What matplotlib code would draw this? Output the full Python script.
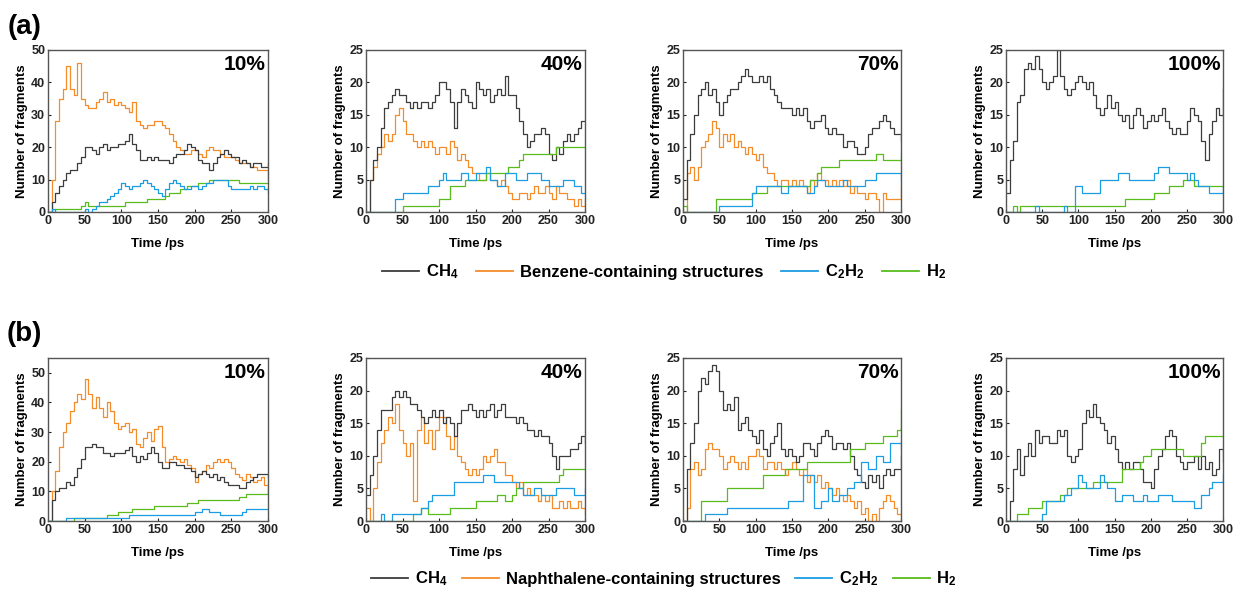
import numpy as np
import matplotlib
matplotlib.use('Agg')
import matplotlib.pyplot as plt
from matplotlib.lines import Line2D

plt.rcParams['font.family'] = ['Liberation Sans', 'DejaVu Sans']
plt.rcParams['font.weight'] = 'bold'
plt.rcParams['axes.labelweight'] = 'bold'
plt.rcParams['mathtext.fontset'] = 'custom'
plt.rcParams['mathtext.bf'] = 'Liberation Sans:bold'
plt.rcParams['mathtext.rm'] = 'Liberation Sans:bold'
plt.rcParams['mathtext.default'] = 'bf'

# time axis, one value every 5 ps
time_ps = list(range(0, 301, 5))
panel_titles = ['10%', '40%', '70%', '100%']

# ---- (a) benzene systems ----
a10_ch4 = [0,3,6,8,10,12,13,13,15,17, 20,20,19,18,20,21,19,20,20,21,
           21,22,24,21,19,16,16,17,16,17, 16,16,16,15,17,18,18,19,21,20,
           19,16,15,15,13,15,17,18,19,18, 17,17,15,16,15,14,15,15,14,14, 15]
a10_ar = [0,10,28,35,38,45,38,36,46,35, 33,32,32,34,35,37,34,35,33,34,
          33,32,31,34,28,27,26,27,27,28, 28,27,26,24,22,20,19,18,18,19,
          19,18,17,19,20,19,19,18,17,17, 17,16,15,15,15,14,14,13,13,13, 10]
a10_c2h2 = [0,1,0,0,0,0,0,0,0,0, 1,0,1,2,3,3,4,5,6,7,
            9,8,7,8,8,9,10,9,8,7, 6,5,7,9,10,9,8,7,7,8,
            8,7,8,9,9,10,10,10,10,8, 7,7,7,7,7,8,7,8,8,7, 6]
a10_h2 = [0,0,1,1,1,1,1,1,1,2, 3,2,2,2,2,2,2,2,2,2,
          2,3,3,3,3,3,3,4,4,4, 4,4,5,6,6,6,7,7,8,8,
          8,9,9,9,10,10,10,10,10,10, 10,10,9,9,9,9,9,9,9,9, 9]

a40_ch4 = [0,5,8,10,13,16,17,18,19,18, 18,17,16,17,16,17,17,16,17,18,
           20,20,19,17,13,17,19,18,17,16, 20,19,18,19,17,18,19,18,21,18,
           18,16,14,12,10,11,12,12,13,12, 9,8,10,9,11,12,11,12,13,14, 14]
a40_ar = [0,5,7,9,10,12,11,12,15,16, 14,12,12,11,10,11,10,11,10,9,
          10,10,9,11,10,8,9,8,7,6, 6,5,5,6,5,5,4,5,4,3,
          2,2,3,3,2,3,4,3,3,4, 3,2,4,3,3,2,2,1,2,1, 2]
a40_c2h2 = [0,0,0,0,0,0,0,0,2,2, 3,3,3,3,3,3,3,4,4,4,
            5,6,5,5,5,5,6,6,5,5, 6,6,6,7,5,5,4,4,6,6,
            6,5,5,5,6,6,6,6,5,5, 4,4,4,4,5,5,5,4,4,3, 3]
a40_h2 = [0,0,0,0,0,0,0,0,0,0, 1,1,1,1,1,1,1,1,1,1,
          2,2,2,4,4,4,4,5,5,5, 5,5,5,6,6,6,6,6,6,7,
          7,7,8,9,9,9,9,9,9,9, 9,9,10,10,10,10,10,10,10,10, 10]

a70_ch4 = [2,8,12,15,18,19,20,18,19,17, 15,17,18,19,19,20,21,22,21,20,
           20,21,20,21,19,18,17,16,16,16, 15,16,15,16,14,13,14,14,15,13,
           12,13,12,12,10,11,11,10,9,9, 10,12,13,13,14,15,14,13,12,12, 11]
a70_ar = [0,6,7,5,7,10,11,12,14,13, 10,12,11,12,10,11,10,9,10,9,
          8,9,7,6,6,5,4,5,5,4, 5,4,5,4,3,5,4,6,5,5,
          4,5,4,5,4,5,3,4,3,3, 2,3,3,2,0,3,2,2,2,2, 4]
a70_c2h2 = [0,0,0,0,0,0,0,0,0,0, 1,1,1,1,1,1,1,1,1,3,
            4,4,4,4,4,4,4,3,3,4, 4,4,4,4,3,3,4,5,5,4,
            4,4,4,4,5,4,4,4,4,4, 5,5,5,6,6,6,6,6,6,6, 5]
a70_h2 = [1,0,0,0,0,0,0,0,0,2, 2,2,2,2,2,2,2,2,2,3,
          3,3,3,4,4,4,4,4,4,4, 4,4,4,4,4,5,5,6,7,7,
          7,7,7,8,8,8,8,8,8,8, 8,8,8,9,9,8,8,8,8,8, 9]

a100_ch4 = [3,8,11,17,18,22,23,22,24,22, 20,19,20,21,25,21,19,18,19,20,
            21,20,19,20,18,16,15,16,18,16, 17,15,14,15,13,15,16,15,13,14,
            15,14,15,16,14,13,12,13,12,12, 14,16,15,14,11,8,12,14,16,15, 19]
a100_c2h2 = [0,0,0,0,0,0,0,0,1,0, 0,0,0,0,0,0,1,0,0,4,
             4,3,3,3,3,3,5,5,5,5, 5,6,6,6,5,5,5,5,5,5,
             5,6,7,7,7,6,6,6,6,6, 5,6,5,4,4,4,3,3,3,3, 4]
a100_h2 = [0,0,1,0,1,1,1,1,1,1, 1,1,1,1,1,1,1,1,1,1,
           1,1,1,1,1,1,1,1,1,1, 1,1,1,2,2,2,2,2,2,2,
           2,3,3,3,3,4,4,4,4,5, 5,5,4,4,4,4,4,4,4,4, 4]

# ---- (b) naphthalene systems ----
b10_ch4 = [0,7,10,11,11,13,12,15,18,21, 25,25,26,25,25,23,23,22,23,23,
           23,24,25,22,20,22,21,23,25,23, 20,18,18,20,20,19,19,18,18,17,
           15,16,17,16,15,16,14,15,13,12, 12,12,11,11,13,14,15,16,16,16, 15]
b10_ar = [0,10,17,25,30,33,37,40,43,41, 48,43,38,42,38,35,40,37,33,31,
          32,33,30,31,26,25,28,30,27,31, 32,25,20,21,22,21,20,21,19,18,
          13,16,17,19,18,20,21,20,21,20, 18,16,15,14,16,15,13,14,15,12, 9]
b10_c2h2 = [0,0,0,0,0,1,1,1,1,1, 1,1,1,1,1,1,1,1,1,1,
            1,1,2,2,2,2,2,2,2,2, 2,2,2,2,2,2,2,2,2,2,
            3,3,4,4,3,3,3,2,2,2, 2,2,2,3,4,4,4,4,4,4, 4]
b10_h2 = [0,0,0,0,0,0,0,1,1,1, 1,1,1,1,1,1,2,2,2,3,
          3,3,3,4,4,4,4,4,4,5, 5,5,5,5,5,5,5,5,6,6,
          6,7,7,7,7,7,7,7,7,7, 7,7,8,8,9,9,9,9,9,9, 10]

b40_ch4 = [4,7,10,14,17,17,17,19,20,19, 20,19,18,18,17,16,15,16,17,16,
           17,15,16,15,13,15,17,17,18,17, 16,17,16,17,18,16,17,18,16,16,
           16,15,16,15,14,14,13,14,13,13, 12,10,8,10,10,10,11,11,12,13, 12]
b40_ar = [2,0,5,9,12,14,16,15,18,14, 12,10,12,3,14,16,12,14,11,14,
          16,16,13,11,13,10,9,8,7,8, 7,8,10,9,10,11,9,9,7,7,
          6,5,6,4,5,4,4,3,4,3, 4,2,2,3,2,3,2,2,3,2, 1]
b40_c2h2 = [0,0,0,0,1,0,0,1,1,1, 1,1,1,1,1,2,2,3,4,4,
            4,4,4,4,6,6,6,6,6,6, 6,6,7,7,7,6,6,6,6,6,
            6,6,5,4,4,4,5,5,4,4, 4,4,5,5,5,5,5,4,4,4, 5]
b40_h2 = [0,0,0,0,0,0,0,0,0,0, 0,0,0,1,1,2,2,1,1,1,
          1,1,1,2,2,2,2,2,2,2, 3,3,3,3,3,3,4,4,3,3,
          4,5,5,6,6,6,6,6,6,6, 6,6,6,7,8,8,8,8,8,8, 8]

b70_ch4 = [0,8,12,15,20,22,21,23,24,23, 20,17,18,17,19,14,15,16,14,13,
           12,14,11,10,12,13,15,11,10,11, 10,9,10,12,12,11,10,12,13,14,
           13,11,12,12,11,12,10,8,7,6, 5,7,6,7,5,7,8,7,8,8, 10]
b70_ar = [0,2,8,9,7,8,11,12,11,11, 10,8,9,10,9,8,9,8,10,10,
          11,10,8,9,9,8,9,8,7,8, 9,8,7,8,6,7,6,7,5,6,
          5,4,5,4,3,4,3,2,3,1, 2,0,1,0,2,3,4,3,2,1, 1]
b70_c2h2 = [0,0,0,0,0,0,1,1,1,1, 1,1,2,2,2,2,2,2,2,2,
            2,2,2,2,2,2,2,2,2,3, 3,3,3,7,7,7,2,2,3,3,
            5,3,3,4,4,5,5,6,6,9, 9,8,8,10,10,9,9,12,12,12, 11]
b70_h2 = [0,0,0,0,0,3,3,3,3,3, 3,3,5,5,5,5,5,5,5,5,
          5,5,7,7,7,7,7,7,8,8, 8,8,8,8,9,9,9,9,9,9,
          9,9,9,9,9,9,11,11,11,11, 12,12,12,12,12,13,13,13,13,14, 17]

b100_ch4 = [0,3,8,11,7,10,12,10,14,12, 13,13,12,12,14,13,14,10,9,10,
            11,15,17,16,18,16,15,14,12,13, 11,9,8,9,8,9,9,8,6,6,
            5,8,10,11,13,14,13,10,9,8, 9,9,10,8,10,8,9,7,8,11, 9]
b100_c2h2 = [0,0,0,0,0,0,0,0,0,0, 1,3,3,3,3,3,4,4,5,5,
             7,6,5,5,5,5,7,6,5,5, 3,3,4,4,4,3,3,3,4,3,
             3,3,4,4,4,4,3,3,3,3, 3,3,2,2,4,4,5,6,6,6, 7]
b100_h2 = [0,0,0,1,1,1,2,2,2,2, 3,3,3,3,3,4,4,5,5,5,
           5,5,5,5,6,6,6,6,6,6, 6,6,8,8,8,8,8,9,10,10,
           11,11,11,11,11,11,11,11,11,10, 10,10,10,10,12,13,13,13,13,13, 13]

ch4_rows = [[a10_ch4, a40_ch4, a70_ch4, a100_ch4], [b10_ch4, b40_ch4, b70_ch4, b100_ch4]]
ar_rows = [[a10_ar, a40_ar, a70_ar, None], [b10_ar, b40_ar, b70_ar, None]]
c2h2_rows = [[a10_c2h2, a40_c2h2, a70_c2h2, a100_c2h2], [b10_c2h2, b40_c2h2, b70_c2h2, b100_c2h2]]
h2_rows = [[a10_h2, a40_h2, a70_h2, a100_h2], [b10_h2, b40_h2, b70_h2, b100_h2]]
ar_names = ['Benzene-containing structures', 'Naphthalene-containing structures']

c_ch4 = '#3d3d3d'
c_ar = '#f58c2a'
c_c2h2 = '#1c9de2'
c_h2 = '#58bd1c'

W, H = 1236, 590
fig = plt.figure(figsize=(W / 100, H / 100), dpi=100)

# axes boxes in pixels: (left, right)
lefts = [(48, 268), (366, 585), (683, 901), (1006, 1223)]
rows_y = [(50, 212), (358, 521)]

for r in range(2):
    top, bot = rows_y[r]
    for c in range(4):
        l, rr = lefts[c]
        ax = fig.add_axes([l / W, 1 - bot / H, (rr - l) / W, (bot - top) / H])
        if ar_rows[r][c] is not None:
            ax.plot(time_ps, ar_rows[r][c], color=c_ar, lw=0.9, drawstyle='steps-post')
        ax.plot(time_ps, ch4_rows[r][c], color=c_ch4, lw=0.9, drawstyle='steps-post')
        ax.plot(time_ps, h2_rows[r][c], color=c_h2, lw=0.9, drawstyle='steps-post')
        ax.plot(time_ps, c2h2_rows[r][c], color=c_c2h2, lw=0.9, drawstyle='steps-post')
        ax.set_xlim(0, 300)
        ax.set_xticks([0, 50, 100, 150, 200, 250, 300])
        if c == 0:
            top_y = 50 if r == 0 else 55
            ax.set_ylim(0, top_y)
            ax.set_yticks([0, 10, 20, 30, 40, 50])
        else:
            ax.set_ylim(0, 25)
            ax.set_yticks([0, 5, 10, 15, 20, 25])
        ax.tick_params(direction='in', length=2, width=0.8, labelsize=9, pad=2, colors='#222222')
        for s in ax.spines.values():
            s.set_color('#555555')
            s.set_linewidth(1.0)
        ax.set_xlabel('Time /ps', fontsize=9.5, labelpad=8)
        ax.set_ylabel('Number of fragments', fontsize=9.5, labelpad=2)
        ax.text(0.99, 0.97, panel_titles[c], transform=ax.transAxes, ha='right', va='top',
                fontsize=15, fontweight='bold')

    handles = [Line2D([], [], color=c_ch4, lw=1.3), Line2D([], [], color=c_ar, lw=1.3),
               Line2D([], [], color=c_c2h2, lw=1.3), Line2D([], [], color=c_h2, lw=1.3)]
    labels = ['CH$_4$', ar_names[r], 'C$_2$H$_2$', 'H$_2$']
    ly = 272 if r == 0 else 579
    fig.legend(handles, labels, loc='center', bbox_to_anchor=(664 / W, 1 - ly / H), ncol=4,
               frameon=False, fontsize=12, handlelength=2.2, handletextpad=0.4,
               columnspacing=1.1 if r == 0 else 0.9, borderpad=0.1)

fig.text(8 / W, 1 - 27 / H, '(a)', fontsize=20, fontweight='bold', va='center', ha='left')
fig.text(7 / W, 1 - 334 / H, '(b)', fontsize=20, fontweight='bold', va='center', ha='left')

fig.savefig('out.png', dpi=100)
